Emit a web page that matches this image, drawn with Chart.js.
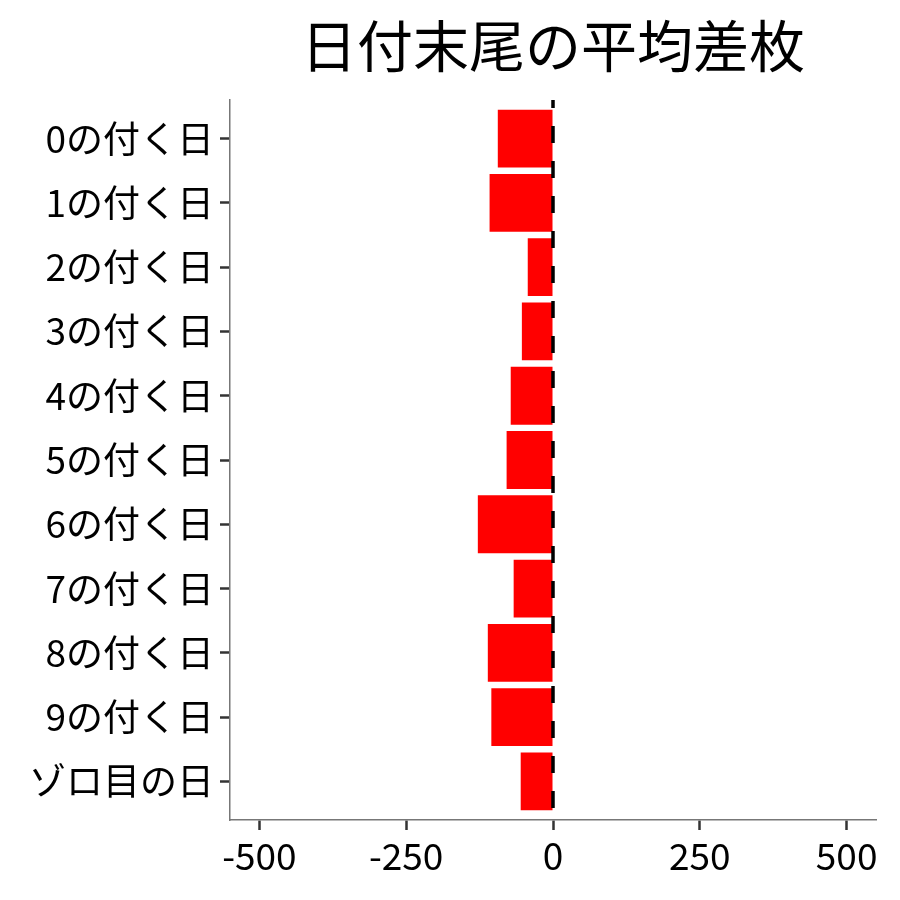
<!DOCTYPE html>
<html>
<head>
<meta charset="utf-8">
<title>日付末尾の平均差枚</title>
<script src="https://cdn.jsdelivr.net/npm/chart.js@4/dist/chart.umd.min.js"></script>
<style>
  html, body { margin: 0; padding: 0; background: #fff; }
  #wrap { width: 900px; height: 900px; position: relative; }
</style>
</head>
<body>
<div id="wrap"><canvas id="chart"></canvas></div>
<script>
// --- data ---
const chartTitle = '日付末尾の平均差枚';
const dayLabels = ['0の付く日', '1の付く日', '2の付く日', '3の付く日', '4の付く日',
  '5の付く日', '6の付く日', '7の付く日', '8の付く日', '9の付く日', 'ゾロ目の日'];
const avgDiff = [-94, -108, -43, -53, -72, -79, -128, -67, -111, -105, -55];
const xTicks = [-500, -250, 0, 250, 500];

const FONT = '"Noto Sans CJK JP", "Noto Sans", sans-serif';

// title centred over the plot panel, like ggplot
const titlePlugin = {
  id: 'panelTitle',
  afterDraw(chart) {
    const { ctx, chartArea } = chart;
    ctx.save();
    ctx.fillStyle = '#000';
    ctx.font = '56px ' + FONT;
    ctx.textAlign = 'center';
    ctx.textBaseline = 'middle';
    ctx.fillText(chartTitle, (chartArea.left + chartArea.right) / 2, 46);
    ctx.restore();
  }
};

// dashed reference line at zero
const zeroLine = {
  id: 'zeroLine',
  afterDatasetsDraw(chart) {
    const { ctx, chartArea, scales } = chart;
    const x = scales.x.getPixelForValue(0);
    ctx.save();
    ctx.strokeStyle = '#000';
    ctx.lineWidth = 3.5;
    ctx.setLineDash([17, 18]);
    ctx.lineDashOffset = 9;
    ctx.beginPath();
    ctx.moveTo(x, chartArea.top);
    ctx.lineTo(x, chartArea.bottom);
    ctx.stroke();
    ctx.restore();
  }
};

const ctx = document.getElementById('chart').getContext('2d');
new Chart(ctx, {
  type: 'bar',
  data: {
    datasets: [{
      data: avgDiff.map((v, i) => ({ x: v, y: i })),
      backgroundColor: '#ff0000',
      borderWidth: 0,
      barPercentage: 0.9,
      categoryPercentage: 1.0
    }]
  },
  options: {
    indexAxis: 'y',
    responsive: true,
    maintainAspectRatio: false,
    animation: false,
    layout: { padding: { top: 100, right: 24, left: 0, bottom: 0 } },
    plugins: {
      legend: { display: false },
      tooltip: { enabled: false },
      title: { display: false }
    },
    scales: {
      x: {
        type: 'linear',
        min: -550,
        max: 550,
        afterBuildTicks(scale) {
          scale.ticks = xTicks.map(v => ({ value: v }));
        },
        afterFit(scale) { scale.height = 80; },
        ticks: {
          color: '#000',
          padding: 4,
          maxRotation: 0,
          font: { family: FONT, size: 37 }
        },
        grid: {
          display: true,
          drawOnChartArea: false,
          drawTicks: true,
          tickLength: 10,
          tickColor: '#333',
          tickWidth: 2.5
        },
        border: { display: true, color: '#777', width: 1.5 }
      },
      y: {
        type: 'linear',
        offset: false,
        min: -0.6,
        max: dayLabels.length - 1 + 0.6,
        reverse: true,
        afterBuildTicks(scale) {
          scale.ticks = dayLabels.map((_, i) => ({ value: i }));
        },
        afterFit(scale) { scale.width = 230; },
        ticks: {
          color: '#000',
          padding: 6,
          autoSkip: false,
          font: { family: FONT, size: 37 },
          callback: (v) => dayLabels[v]
        },
        grid: {
          display: true,
          offset: false,
          drawOnChartArea: false,
          drawTicks: true,
          tickLength: 10,
          tickColor: '#333',
          tickWidth: 2.5
        },
        border: { display: true, color: '#777', width: 1.5 }
      }
    }
  },
  plugins: [titlePlugin, zeroLine]
});
</script>
</body>
</html>
